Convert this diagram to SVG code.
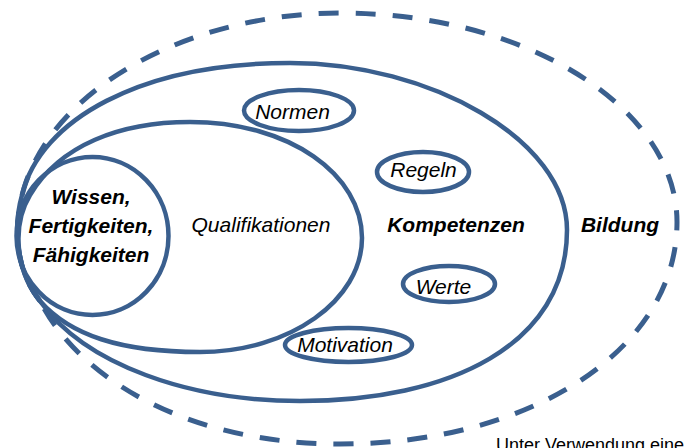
<svg xmlns="http://www.w3.org/2000/svg" width="686" height="448" viewBox="0 0 686 448">
<style>
.ln{fill:none;stroke:#3A5F8E;stroke-width:4.5;stroke-linejoin:round}
.dash{fill:none;stroke:#3A5F8E;stroke-width:5;stroke-dasharray:20 17}
.sm{fill:#fff;stroke:#3A5F8E;stroke-width:4.5}
.t{font-family:"Liberation Sans",Arial,sans-serif;font-size:21px;fill:#000;text-anchor:middle}
.i{font-style:italic}
.b{font-style:italic;font-weight:bold}
</style>
<rect width="686" height="448" fill="#fff"/>
<g id="bildung">
<path class="dash" d="M 40 301 C 15 270, 12 225, 25 185 C 60 80, 200 13, 340 13 C 530 13, 677 110, 677 222 C 677 350, 530 444, 340 444 C 190 444, 80 380, 40 301 Z"/>
<text class="t b" x="620" y="232">Bildung</text>
</g>
<g id="kompetenzen">
<path class="ln" d="M 40 301 C 18 275, 12 230, 22 195 C 40 120, 140 63, 290 63 C 430 63, 567 140, 567 230 C 567 345, 450 401, 300 401 C 190 401, 85 365, 40 301 Z"/>
<text class="t b" x="456" y="232">Kompetenzen</text>
</g>
<g id="qualifikationen">
<path class="ln" d="M 40 301 C 15 270, 12 225, 30 195 C 60 145, 120 122, 190 122 C 290 122, 362 175, 362 238 C 362 300, 290 352, 200 352 C 120 352, 70 335, 40 301 Z"/>
<text class="t i" x="261" y="232">Qualifikationen</text>
</g>
<g id="wissen">
<ellipse class="ln" cx="92.5" cy="236" rx="76" ry="79"/>
<text class="t b" x="91" y="204">Wissen,</text>
<text class="t b" x="91" y="233">Fertigkeiten,</text>
<text class="t b" x="91" y="262">Fähigkeiten</text>
</g>
<g id="normen">
<ellipse class="sm" cx="299" cy="110.5" rx="55" ry="20.5"/>
<text class="t i" x="292.5" y="119">Normen</text>
</g>
<g id="regeln">
<ellipse class="sm" cx="423" cy="172" rx="46" ry="20"/>
<text class="t i" x="423.5" y="177">Regeln</text>
</g>
<g id="werte">
<ellipse class="sm" cx="449" cy="284" rx="46" ry="18"/>
<text class="t i" x="443.5" y="294">Werte</text>
</g>
<g id="motivation">
<ellipse class="sm" cx="348.5" cy="345" rx="63.5" ry="17"/>
<text class="t i" x="345" y="352">Motivation</text>
</g>
<text x="496" y="451" font-family="Liberation Sans, Arial, sans-serif" font-size="18" fill="#000">Unter Verwendung eine</text>
</svg>
